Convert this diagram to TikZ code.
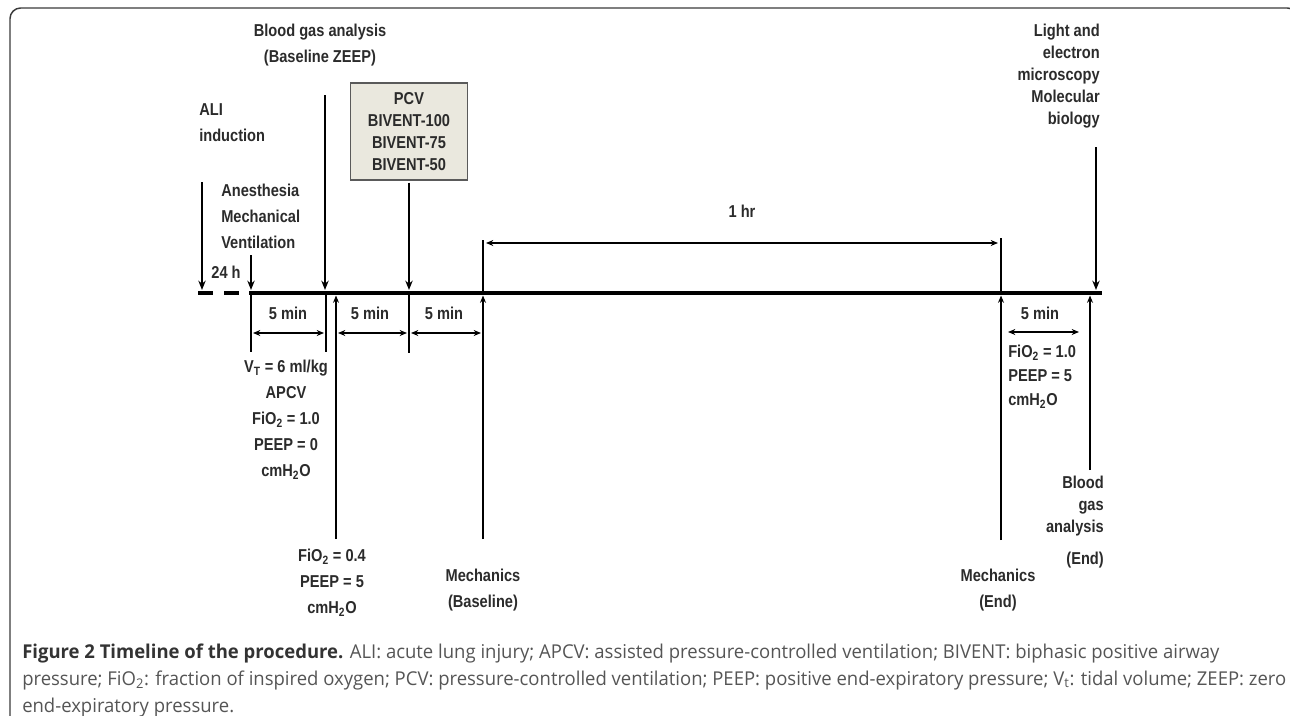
\documentclass[tikz,border=0pt]{standalone}
\usepackage{fontspec}
\setmainfont{Open Sans}
\newfontfamily\figfont[FakeStretch=0.85]{Liberation Sans}
\newfontfamily\capfont[FakeStretch=0.97]{Open Sans}
\usetikzlibrary{arrows.meta}
\definecolor{figtext}{HTML}{2B2B2B}
\definecolor{figboxfill}{HTML}{EAE8DE}
\definecolor{figboxdraw}{HTML}{5A5A5A}
\definecolor{figframe}{HTML}{3A3A3A}
\definecolor{figcaphead}{HTML}{333333}
\definecolor{figcapgray}{HTML}{555555}

\begin{document}
\begin{tikzpicture}[
  x=0.75pt, y=-0.75pt,
  font=\figfont\bfseries\fontsize{12.9pt}{19.5pt}\selectfont,
  figlabel/.style={text=figtext, inner sep=0pt, align=center},
  figtight/.style={font=\figfont\bfseries\fontsize{12.9pt}{16.5pt}\selectfont},
  figpcv/.style={
    rectangle, draw=figboxdraw, line width=0.9pt, fill=figboxfill,
    minimum width=87.75pt, minimum height=72.75pt, inner sep=0pt,
    align=center, text=figtext,
    font=\figfont\bfseries\fontsize{12.9pt}{16.5pt}\selectfont,
  },
  figtimeline/.style={line width=3pt},
  figtick/.style={line width=2.1pt},
  figdown/.style={line width=2pt, -{Stealth[length=7pt, width=5.5pt]}},
  figup/.style={line width=2pt, -{Stealth[length=5.5pt, width=4.5pt]}},
  figspan/.style={
    line width=1.5pt,
    {Stealth[length=5.5pt, width=4.5pt]}-{Stealth[length=5.5pt, width=4.5pt]},
  },
  figcaption/.style={
    inner sep=0pt, align=left, text=figcapgray,
    font=\capfont\fontsize{14.3pt}{20.25pt}\selectfont,
  },
]
\useasboundingbox (0,0) rectangle (1290,715);
% frame
\begin{scope}
  \clip (0,0) rectangle (1290,715);
  \draw[figframe, line width=1.1pt, rounded corners=8pt] (10,740) -- (10,8) -- (1298,8) -- (1298,740);
\end{scope}

% timeline
\coordinate (tlstart) at (249,293);
\coordinate (tlend) at (1102,293);
\draw[figtimeline] (tlstart) -- (tlend);
\draw[figtimeline, dash pattern=on 11.25pt off 8.25pt] (198,293) -- (243,293);

% ticks on the timeline
\foreach \tx/\ty in {251/352, 326/352, 409/353}
  \draw[figtick] (\tx,292) -- (\tx,\ty);
\foreach \tx/\ty in {483/240, 1001/238}
  \draw[figtick] (\tx,\ty) -- (\tx,294);

% labels above
\node[figlabel] (bgabase) at (320,45) {Blood gas analysis\\(Baseline ZEEP)};
\node[figlabel, anchor=west, align=left] (aliind) at (199,123) {ALI\\induction};
\node[figlabel, anchor=west, align=left] (anest) at (221,216) {Anesthesia\\Mechanical\\Ventilation};
\node[figlabel] (h24) at (226,272) {24 h};
\node[figpcv] (pcvbox) at (409,131.5) {PCV\\BIVENT-100\\BIVENT-75\\BIVENT-50};
\node[figlabel, figtight, anchor=east, align=right] (lightem) at (1100,76)
  {Light and\\electron\\microscopy\\Molecular\\biology};
\node[figlabel] (onehr) at (742,211) {1 hr};

% spans
\foreach \nm/\xa/\xb/\xl in {sa/253/324/288, sb/338/407/370, sc/411/481/444} {
  \coordinate (\nm l) at (\xa,333);
  \coordinate (\nm r) at (\xb,333);
  \draw[figspan] (\nm l) -- (\nm r);
  \node[figlabel] (\nm lab) at (\xl,313) {5 min};
}
\coordinate (hrl) at (486,243);
\coordinate (hrr) at (998,243);
\draw[figspan] (hrl) -- (hrr);
\coordinate (endl) at (1008,332);
\coordinate (endr) at (1079,332);
\draw[figspan] (endl) -- (endr);
\node[figlabel] (endlab) at (1040,313) {5 min};

% down arrows onto the timeline
\foreach \nm/\tx/\ty in {ali/202/182, anes/251/255, bga/325/95, lem/1096/147} {
  \coordinate (\nm top) at (\tx,\ty);
  \coordinate (\nm tip) at (\tx,290);
  \draw[figdown] (\nm top) -- (\nm tip);
}
\coordinate (pcvtip) at (409,290);
\draw[figdown] ([yshift=-1.5pt]pcvbox.south) -- (pcvtip);

% up arrows onto the timeline
\foreach \nm/\tx/\ty in {fio/336/539, mbase/483/539, mend/1001/540, bgend/1090/470} {
  \coordinate (\nm foot) at (\tx,\ty);
  \coordinate (\nm tip) at (\tx,295.5);
  \draw[figup] (\nm foot) -- (\nm tip);
}

% labels below
\node[figlabel] (vtset) at (286,420)
  {V\textsubscript{T} = 6 ml/kg\\APCV\\FiO\textsubscript{2} = 1.0\\PEEP = 0\\cmH\textsubscript{2}O};
\node[figlabel] (fiolow) at (332,583) {FiO\textsubscript{2} = 0.4\\PEEP = 5\\cmH\textsubscript{2}O};
\node[figlabel] (mechbase) at (483,590) {Mechanics\\(Baseline)};
\node[figlabel] (mechend) at (998,590) {Mechanics\\(End)};
\node[figlabel, anchor=west, align=left, font=\figfont\bfseries\fontsize{12.9pt}{18pt}\selectfont] (fiohigh) at (1008,377)
  {FiO\textsubscript{2} = 1.0\\PEEP = 5\\cmH\textsubscript{2}O};
\node[figlabel, figtight, anchor=east, align=right] (bgaend) at (1104,522)
  {Blood\\gas\\analysis\\[8pt](End)};

% caption
\node[figcaption, anchor=west] (figcap) at (22,680)
  {{\color{figcaphead}\bfseries Figure 2 Timeline of the procedure.} ALI: acute lung injury; APCV: assisted pressure-controlled ventilation; BIVENT: biphasic positive airway\\
  pressure; FiO\textsubscript{2}: fraction of inspired oxygen; PCV: pressure-controlled ventilation; PEEP: positive end-expiratory pressure; V\textsubscript{t}: tidal volume; ZEEP: zero\\
  end-expiratory pressure.};
\end{tikzpicture}
\end{document}
